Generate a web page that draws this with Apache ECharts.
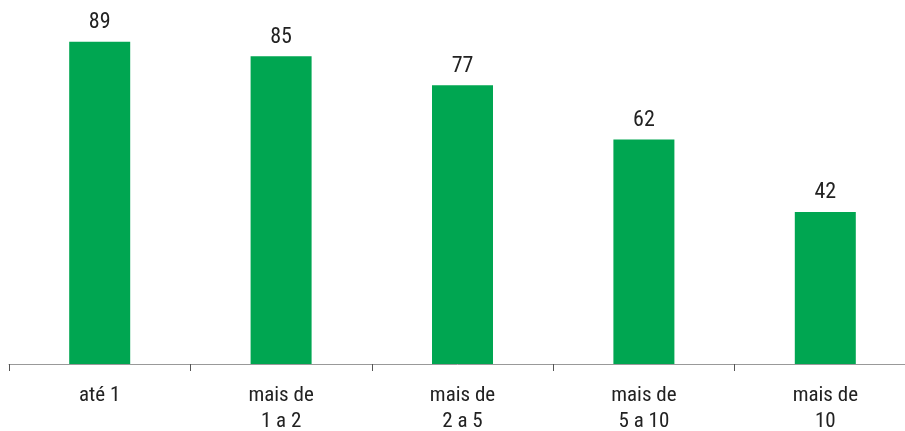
<!DOCTYPE html>
<html><head><meta charset="utf-8">
<script src="https://cdn.jsdelivr.net/npm/echarts@6/dist/echarts.min.js"></script>
<style>html,body{margin:0;padding:0;background:#fff}#c{width:905px;height:431px}</style>
</head><body><div id="c"></div>
<script>
const categories = ['até 1', 'mais de\n1 a 2', 'mais de\n2 a 5', 'mais de\n5 a 10', 'mais de\n10'];
const values = [89, 85, 77, 62, 42];
const FONT = '"Roboto Condensed", "Liberation Sans Narrow", "Roboto", sans-serif';
const chart = echarts.init(document.getElementById('c'));
chart.setOption({
  animation: false,
  grid: {left: 9, width: 907, top: 2, bottom: 67, containLabel: false, outerBoundsMode: 'none'},
  xAxis: {
    type: 'category', data: categories,
    axisLine: {lineStyle: {color: '#999', width: 1}},
    axisTick: {show: true, length: 7, lineStyle: {color: '#555'}},
    axisLabel: {fontFamily: FONT, fontSize: 21, color: '#222', lineHeight: 26, margin: 19}
  },
  yAxis: {type: 'value', min: 0, max: 100, show: false, splitLine: {show: false}},
  series: [{
    type: 'bar', data: values, barWidth: 61,
    itemStyle: {color: '#00A651'},
    label: {show: true, position: 'top', distance: 8, fontFamily: FONT, fontSize: 22, color: '#222'}
  }]
});
</script></body></html>
